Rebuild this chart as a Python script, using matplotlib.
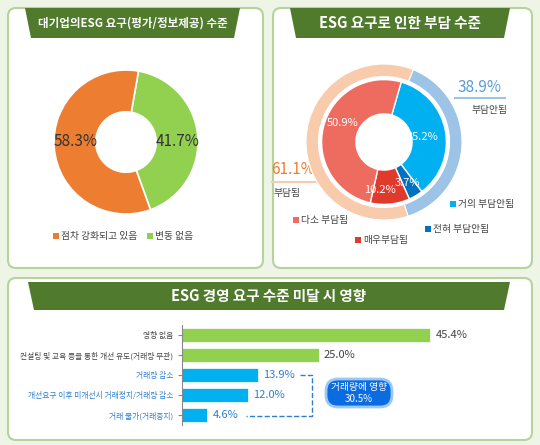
import matplotlib
matplotlib.use("Agg")
import matplotlib.pyplot as plt
from matplotlib.patches import FancyBboxPatch, Polygon, Rectangle

plt.rcParams['font.family'] = ['Noto Sans CJK KR', 'DejaVu Sans']

# Data
p1_labels = ['점차 강화되고 있음', '변동 없음']
p1_values = [58.3, 41.7]
p2_outer_labels = ['부담안됨', '부담됨']
p2_outer_values = [38.9, 61.1]
p2_inner_labels = ['거의 부담안됨', '전혀 부담안됨', '매우부담됨', '다소 부담됨']
p2_inner_values = [35.2, 3.7, 10.2, 50.9]
bar_labels = ['영향 없음', '컨설팅 및 교육 등을 통한 개선 유도(거래량 무관)', '거래량 감소',
              '개선요구 이후 미개선시 거래정지/거래량 감소', '거래 불가(거래중지)']
bar_values = [45.4, 25.0, 13.9, 12.0, 4.6]

W, H = 540, 445
fig = plt.figure(figsize=(5.4, 4.45), dpi=100)
fig.patch.set_facecolor('#eef5e6')
bg = fig.add_axes([0, 0, 1, 1])
bg.set_xlim(0, W); bg.set_ylim(H, 0); bg.axis('off')

def panel(x0, y0, x1, y1):
    bg.add_patch(FancyBboxPatch((x0, y0), x1 - x0, y1 - y0, boxstyle="round,pad=0,rounding_size=8",
                                fc='white', ec='#b5d39a', lw=1.5))
def tab(x0, x1, y0, y1, text, fs):
    bg.add_patch(Polygon([(x0, y0), (x1, y0), (x1 - 6, y1), (x0 + 6, y1)], closed=True,
                         fc='#507a2c', ec='none'))
    bg.text((x0 + x1) / 2, (y0 + y1) / 2, text, color='white', ha='center', va='center',
            fontsize=fs, fontweight='bold')

panel(8, 8, 263, 268); panel(273, 8, 532, 268); panel(8, 278, 532, 440)
tab(25, 240, 8, 38, '대기업의ESG 요구(평가/정보제공) 수준', 8.3)
tab(290, 510, 8, 38, 'ESG 요구로 인한 부담 수준', 10.5)
tab(28, 510, 282, 310, 'ESG 경영 요구 수준 미달 시 영향', 10.5)

def fax(cx, cy, r):
    a = fig.add_axes([(cx - r) / W, 1 - (cy + r) / H, 2 * r / W, 2 * r / H])
    a.patch.set_alpha(0)
    return a

# Donut 1
ax1 = fax(126, 142, 72)
ax1.pie([p1_values[1], p1_values[0]], colors=['#92d050', '#ed7d31'], startangle=80,
        counterclock=False, radius=1, wedgeprops=dict(width=0.58, edgecolor='white', linewidth=1.2))
ax1.set_xlim(-1, 1); ax1.set_ylim(-1, 1)
ax1.text(-0.7, 0, f'{p1_values[0]}%', ha='center', va='center', fontsize=11, color='#333333')
ax1.text(0.72, 0, f'{p1_values[1]}%', ha='center', va='center', fontsize=11, color='#333333')
for x, c, t in [(53, '#ed7d31', p1_labels[0]), (147, '#92d050', p1_labels[1])]:
    bg.add_patch(Rectangle((x, 233), 6, 6, fc=c))
    bg.text(x + 8, 236, t, fontsize=7, va='center', color='#444444')

# Donut 2
ax2 = fax(384, 142, 78)
ax2.pie(p2_outer_values, colors=['#9dc3e6', '#f8cbad'], startangle=68, counterclock=False,
        radius=1, wedgeprops=dict(width=0.16, edgecolor='white', linewidth=0.8))
ax2.pie(p2_inner_values, colors=['#00b0f0', '#0070c0', '#e03a2d', '#ee6b5f'], startangle=74,
        counterclock=False, radius=0.8, wedgeprops=dict(width=0.44, edgecolor='white', linewidth=1))
ax2.set_xlim(-1, 1); ax2.set_ylim(-1, 1)
for t, x, y in [('35.2%', 0.5, 0.07), ('3.7%', 0.3, -0.52), ('10.2%', -0.05, -0.62), ('50.9%', -0.53, 0.25)]:
    ax2.text(x, y, t, ha='center', va='center', fontsize=8, color='white')
bg.text(480, 88, '38.9%', fontsize=11, color='#5b9bd5', style='italic', ha='center', va='center')
bg.plot([455, 505], [98, 98], color='#9dc3e6', lw=1.5)
bg.text(490, 110, '부담안됨', fontsize=7, color='#444444', ha='center', va='center')
bg.text(293, 170, '61.1%', fontsize=11, color='#ed7d31', style='italic', ha='center', va='center')
bg.plot([272, 318], [182, 182], color='#f8cbad', lw=1.5)
bg.text(287, 193, '부담됨', fontsize=7, color='#444444', ha='center', va='center')
for x, y, c, t in [(450, 204, '#00b0f0', p2_inner_labels[0]), (425, 229, '#0070c0', p2_inner_labels[1]),
                   (355, 240, '#e03a2d', p2_inner_labels[2]), (293, 220, '#ee6b5f', p2_inner_labels[3])]:
    bg.add_patch(Rectangle((x, y - 3), 6, 6, fc=c))
    bg.text(x + 8, y, t, fontsize=7, va='center', color='#444444')

# Bars
ax3 = fig.add_axes([182 / W, 1 - 425 / H, 273 / W, 100 / H])
ax3.patch.set_alpha(0)
colors = ['#92d050', '#92d050', '#00b0f0', '#00b0f0', '#00b0f0']
y = list(range(len(bar_values)))
ax3.barh(y, bar_values, height=0.7, color=colors, edgecolor='white', linewidth=0.5)
ax3.set_xlim(0, 50); ax3.set_ylim(4.5, -0.5)
ax3.set_yticks(y)
ax3.set_yticklabels(bar_labels, fontsize=5.6)
for lab, c in zip(ax3.get_yticklabels(), ['#444444', '#444444', '#2f7fd0', '#2f7fd0', '#2f7fd0']):
    lab.set_color(c)
ax3.set_xticks([])
for s in ['top', 'right', 'bottom']:
    ax3.spines[s].set_visible(False)
ax3.spines['left'].set_color('#888888')
ax3.tick_params(axis='y', length=3, color='#888888')
for i, v in enumerate(bar_values):
    ax3.text(v + 1, i, f'{v}%', va='center', fontsize=8,
             color='#444444' if i < 2 else '#2f7fd0')
ov = fig.add_axes([0, 0, 1, 1]); ov.patch.set_alpha(0)
ov.set_xlim(0, W); ov.set_ylim(H, 0); ov.axis('off')
ov.plot([300, 312, 312, 246], [375, 375, 416, 416], color='#2f7fd0', lw=1, ls='--')
ov.add_patch(FancyBboxPatch((326, 379), 66, 28, boxstyle="round,pad=0,rounding_size=12",
                            fc='#0b6be0', ec='#9cc8f5', lw=2))
ov.text(359, 393, '거래량에 영향\n30.5%', color='white', fontsize=7, ha='center', va='center',
        linespacing=1.2)

fig.savefig('out.png', dpi=100, facecolor=fig.get_facecolor())
